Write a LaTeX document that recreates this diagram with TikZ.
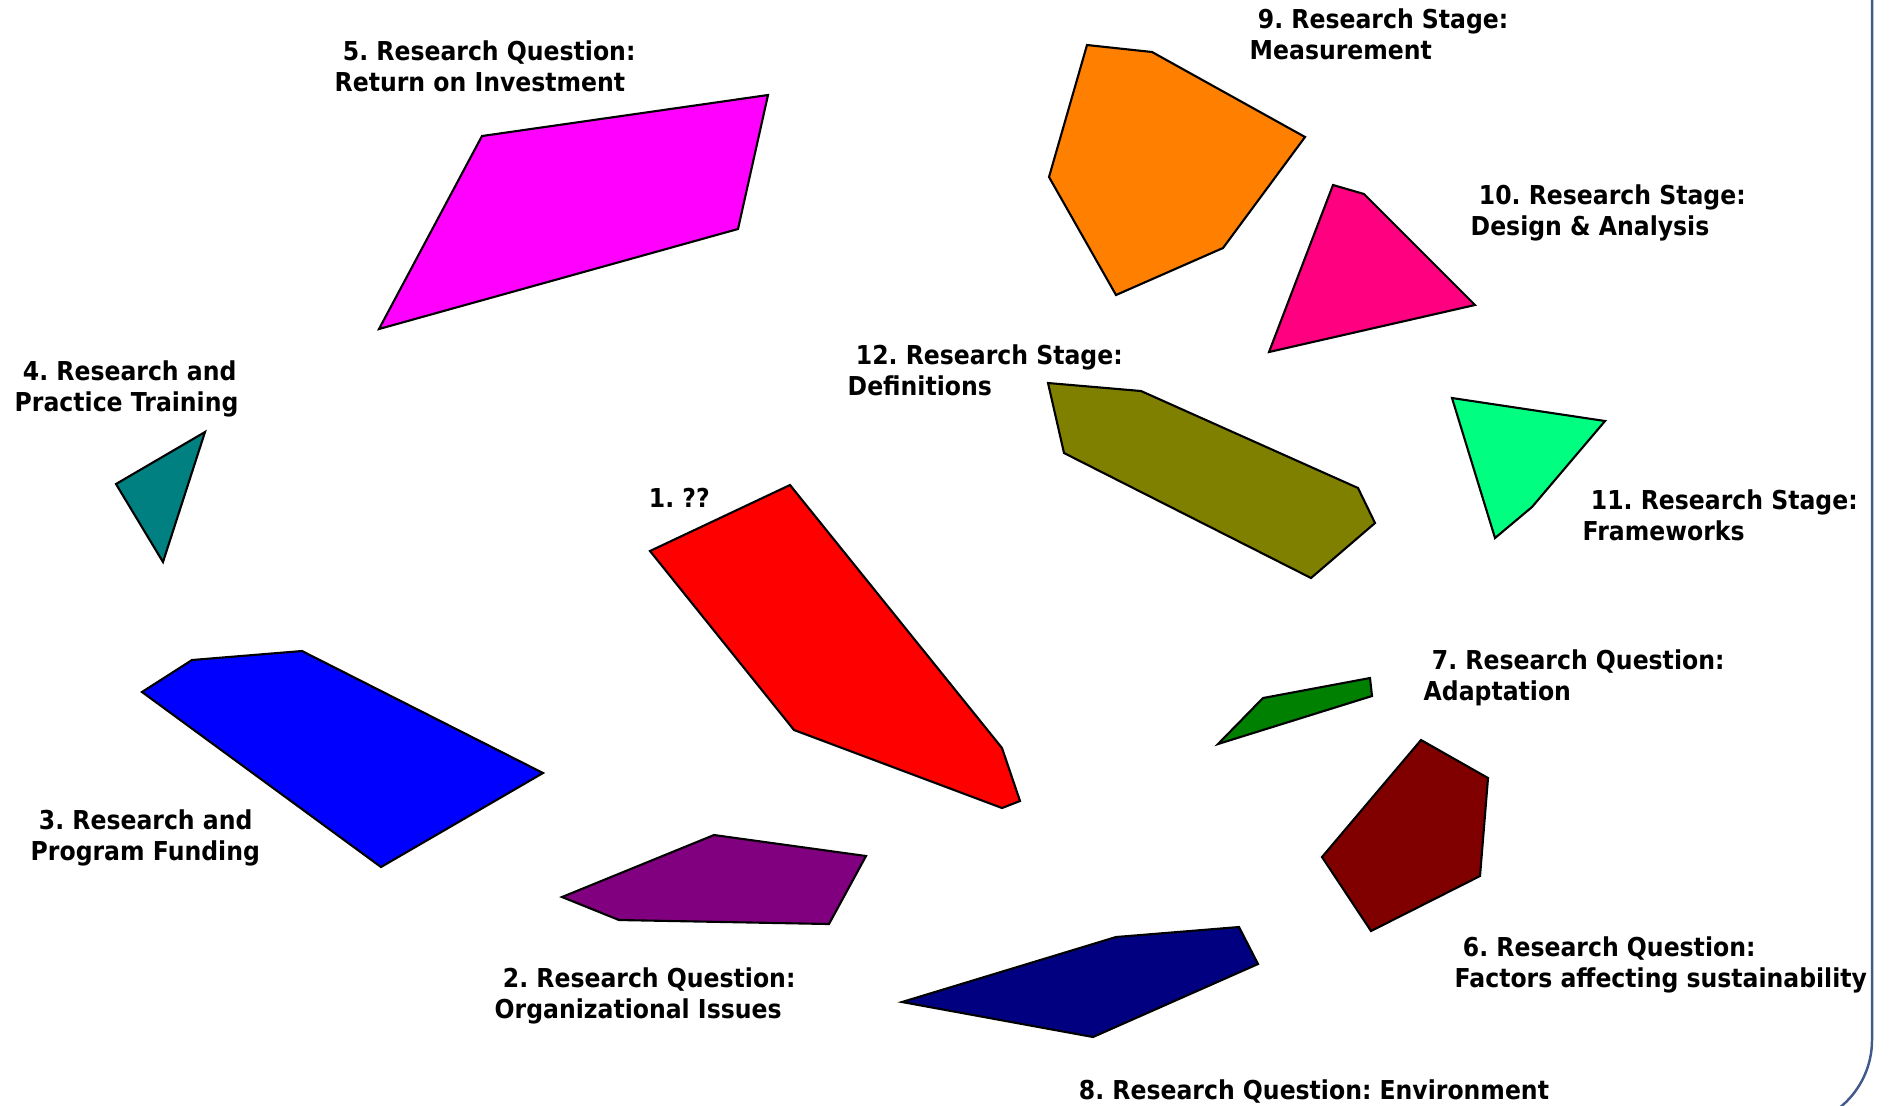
\documentclass[tikz,border=0pt]{standalone}
\usepackage{fontspec}
\newfontfamily\lblfont{DejaVu Sans}[FakeStretch=0.905]
\frenchspacing

\begin{document}
\begin{tikzpicture}[x=0.01cm, y=-0.01cm]

\definecolor{frameblue}{HTML}{41598B}
\definecolor{pMagenta}{HTML}{FF00FF}
\definecolor{pOrange}{HTML}{FF8000}
\definecolor{pPink}{HTML}{FF0080}
\definecolor{pOlive}{HTML}{808000}
\definecolor{pSpring}{HTML}{00FF80}
\definecolor{pTeal}{HTML}{008080}
\definecolor{pRed}{HTML}{FF0000}
\definecolor{pBlue}{HTML}{0000FF}
\definecolor{pGreen}{HTML}{008000}
\definecolor{pMaroon}{HTML}{800000}
\definecolor{pPurple}{HTML}{800080}
\definecolor{pNavy}{HTML}{000080}

\tikzset{
  patch/.style={draw=black, line width=0.6pt, line join=miter},
  lbl/.style={anchor=base west, inner sep=0pt, align=left,
    font=\lblfont\bfseries\fontsize{7.4}{8.8}\selectfont}
}

\clip (0,0) rectangle (1891,1105);
\draw[frameblue, line width=0.7pt, rounded corners=0.87cm] (-100,-100) rectangle (1872,1127);

%shapes
\draw[patch, fill=pMagenta] (482,136) -- (768,95) -- (738,229) -- (379,329) -- cycle;
\draw[patch, fill=pOrange] (1087,45) -- (1152,52) -- (1305,137) -- (1223,248) -- (1116,295) -- (1049,177) -- cycle;
\draw[patch, fill=pPink] (1333,185) -- (1364,194) -- (1475,305) -- (1269,352) -- cycle;
\draw[patch, fill=pOlive] (1048,383) -- (1141,391) -- (1358,488) -- (1375,523) -- (1311,578) -- (1064,453) -- cycle;
\draw[patch, fill=pSpring] (1452,398) -- (1605,421) -- (1532,507) -- (1495,538) -- cycle;
\draw[patch, fill=pTeal] (116,484) -- (205,432) -- (163,562) -- cycle;
\draw[patch, fill=pRed] (650,551) -- (790,485) -- (1002,748) -- (1020,801) -- (1002,808) -- (794,730) -- cycle;
\draw[patch, fill=pBlue] (142,692) -- (192,660) -- (302,651) -- (543,773) -- (381,867) -- cycle;
\draw[patch, fill=pGreen] (1218,744) -- (1263,698) -- (1370,678) -- (1372,696) -- cycle;
\draw[patch, fill=pMaroon] (1322,857) -- (1421,740) -- (1488,778) -- (1480,876) -- (1371,931) -- cycle;
\draw[patch, fill=pPurple] (562,897) -- (714,835) -- (866,856) -- (829,924) -- (619,920) -- cycle;
\draw[patch, fill=pNavy] (902,1002) -- (1116,937) -- (1239,927) -- (1258,964) -- (1093,1037) -- cycle;

%labels (base = last line)
\node[lbl] (q5) at (334,91) {\ 5. Research Question:\\Return on Investment};
\node[lbl] (s9) at (1249,59) {\ 9. Research Stage:\\Measurement};
\node[lbl] (s10) at (1470,235) {\ 10. Research Stage:\\Design \& Analysis};
\node[lbl] (s12) at (847,395) {\ 12. Research Stage:\\Definitions};
\node[lbl] (q4) at (14,411) {\ 4. Research and\\Practice Training};
\node[lbl] (q1) at (640,507) {\ 1. ??};
\node[lbl] (s11) at (1582,540) {\ 11. Research Stage:\\Frameworks};
\node[lbl] (q7) at (1423,700) {\ 7. Research Question:\\Adaptation};
\node[lbl] (q3) at (30,860) {\ 3. Research and\\Program Funding};
\node[lbl] (q6) at (1454,987) {\ 6. Research Question:\\Factors affecting sustainability};
\node[lbl] (q2) at (494,1018) {\ 2. Research Question:\\Organizational Issues};
\node[lbl] (q8) at (1070,1099) {\ 8. Research Question: Environment};

\end{tikzpicture}
\end{document}
